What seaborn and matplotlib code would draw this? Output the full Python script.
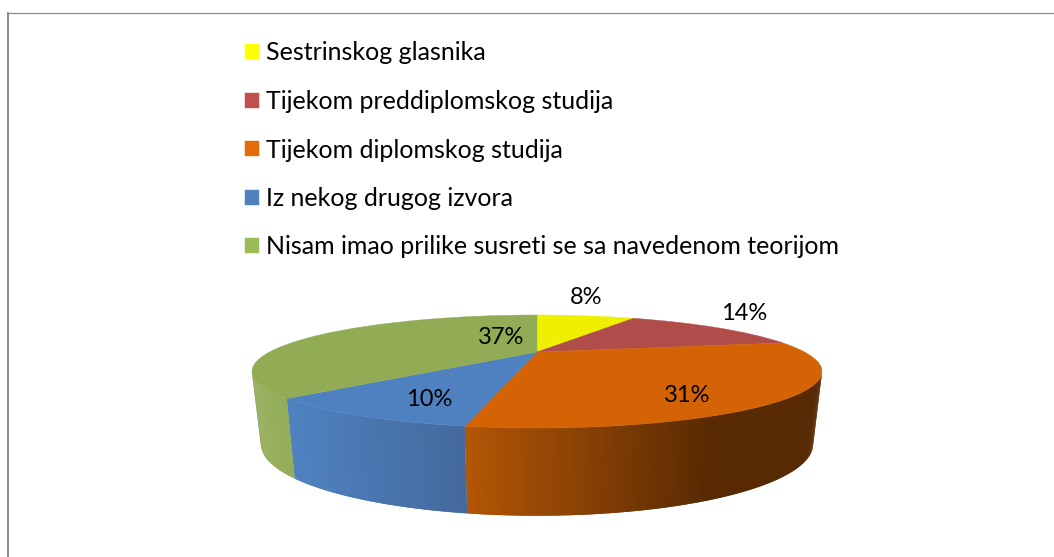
import numpy as np
import matplotlib
matplotlib.use('Agg')
import matplotlib.pyplot as plt
from matplotlib.colors import to_rgb
from matplotlib.transforms import Transform
import seaborn as sns

categories = ['Sestrinskog glasnika', 'Tijekom preddiplomskog studija', 'Tijekom diplomskog studija',
              'Iz nekog drugog izvora', 'Nisam imao prilike susreti se sa navedenom teorijom']
# slice sizes, the printed labels are rounded
shares = [7.8, 14.1, 30.95, 9.65, 37.5]
share_labels = ['8%', '14%', '31%', '10%', '37%']

top_colors = ['#EFEF00', '#B04C49', '#D46306', '#4F81C0', '#92AC55']
legend_colors = ['#FFFF00', '#C0504D', '#E36C09', '#4F81BD', '#9BBB59']
# wall shading, left and right end of each slice's wall
wall_colors = [('#EFEF00', '#EFEF00'), ('#B04C49', '#B04C49'), ('#B45605', '#582A03'),
               ('#4F81C0', '#43699C'), ('#92AC55', '#92AC55')]
wall_x_range = [(0, 1), (0, 1), (467, 715), (294, 467), (0, 1)]
label_xy = [(586, 298), (744, 313), (687, 396), (429, 400), (501, 338)]

# perspective of the tilted disc, in pixels
CX, CY = 537, 352
R_TOP, C_TOP = 267.5, 49.8
R_BOT, C_BOT, Y_BOT = 259, 62.7, 420
K = 0.345


def project(x, y, r, c, y0):
    d = 1 + K * y
    return CX + r * x / d, y0 - c * y / d


class TopFace(Transform):
    input_dims = 2
    output_dims = 2
    is_separable = False

    def transform_non_affine(self, values):
        values = np.asarray(values)
        px, py = project(values[:, 0], values[:, 1], R_TOP, C_TOP, CY)
        return np.column_stack([px, py])


sns.set_theme(style='white')
plt.rcParams['font.family'] = ['Lato', 'DejaVu Sans']

fig = plt.figure(figsize=(10.54, 5.57), dpi=100)
ax = fig.add_axes([0, 0, 1, 1])

wedges, _ = ax.pie(shares, colors=top_colors, startangle=90, counterclock=False, radius=1,
                   wedgeprops={'linewidth': 0.3, 'zorder': 3})
for w, col in zip(wedges, top_colors):
    w.set_edgecolor(col)
    w.set_transform(TopFace() + ax.transData)

ax.set_aspect('auto')
ax.set_xlim(0, 1054)
ax.set_ylim(557, 0)

# outer wall, only the part that faces the viewer
edges = np.radians(np.concatenate([[0], np.cumsum(shares)]) * 3.6)
vis_start, vis_end = np.pi - np.arccos(K), np.pi + np.arccos(K)
for i in range(len(shares)):
    a0, a1 = max(edges[i], vis_start), min(edges[i + 1], vis_end)
    if a1 <= a0:
        continue
    steps = np.linspace(a0, a1, 140)
    left, right = np.array(to_rgb(wall_colors[i][0])), np.array(to_rgb(wall_colors[i][1]))
    for j in range(len(steps) - 1):
        # each strip runs over the next one so no seams show
        th = steps[j:j + 3]
        tx, ty = project(np.sin(th), np.cos(th), R_TOP, C_TOP, CY)
        bx, by = project(np.sin(th), np.cos(th), R_BOT, C_BOT, Y_BOT)
        t = np.clip((tx[0] - wall_x_range[i][0]) / (wall_x_range[i][1] - wall_x_range[i][0]), 0, 1)
        col = left + (right - left) * t
        ax.fill(np.r_[tx, bx[::-1]], np.r_[ty, by[::-1]], facecolor=col, edgecolor='none', lw=0, zorder=2)

for (x, y), txt in zip(label_xy, share_labels):
    ax.text(x, y, txt, ha='center', va='center', fontsize=17, color='black', zorder=5)

# chart frame, right and bottom sides are cropped in the source
ax.plot([7.8, 7.8], [12.5, 557], color='#8A8A8A', lw=1.4, zorder=1)
ax.plot([7, 1054], [12.5, 12.5], color='#8A8A8A', lw=0.9, zorder=1)

leg = ax.legend(wedges, categories, loc='upper left', bbox_to_anchor=(245 / 1054, 1 - 41.5 / 557),
                frameon=False, fontsize=18, labelcolor='black', borderpad=0, borderaxespad=0,
                handlelength=0.56, handleheight=0.54, handletextpad=0.28, labelspacing=1.02)
for handle, col in zip(leg.legend_handles, legend_colors):
    handle.set_facecolor(col)
    handle.set_edgecolor(col)

ax.axis('off')
fig.savefig('out.png', dpi=100)
